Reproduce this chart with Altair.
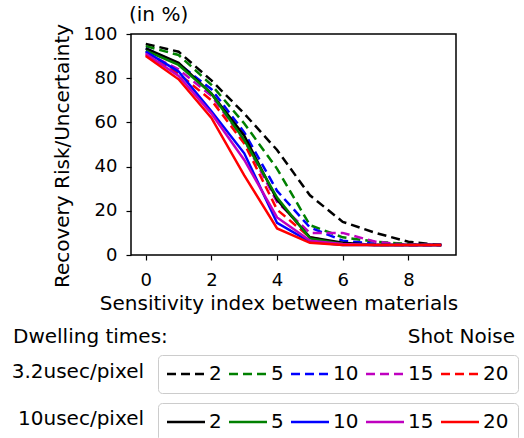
import altair as alt
import pandas as pd

FONT = "DejaVu Sans"

x_vals = [0, 1, 2, 3, 4, 5, 6, 7, 8, 9]
noise_levels = ["2", "5", "10", "15", "20"]
line_colors = ["#000000", "#008000", "#0000ff", "#bf00bf", "#ff0000"]

# 3.2 usec/pixel (dashed)
dash_2 = [95.5, 92.0, 79.0, 64.0, 47.5, 27.0, 15.0, 10.0, 6.0, 4.5]
dash_5 = [94.5, 90.5, 77.0, 59.5, 39.0, 13.5, 8.0, 6.0, 5.0, 4.5]
dash_10 = [93.5, 86.5, 75.0, 55.5, 29.0, 12.5, 6.5, 5.0, 4.5, 4.5]
dash_15 = [91.5, 84.0, 72.0, 52.0, 24.0, 10.0, 10.0, 6.0, 4.5, 4.5]
dash_20 = [90.5, 82.0, 70.0, 50.5, 20.5, 8.0, 5.0, 4.5, 4.5, 4.5]

# 10 usec/pixel (solid)
solid_2 = [93.5, 87.0, 73.0, 54.0, 25.0, 8.0, 5.5, 4.5, 4.5, 4.5]
solid_5 = [92.5, 86.0, 73.0, 52.0, 26.0, 7.5, 5.0, 4.5, 4.5, 4.5]
solid_10 = [92.0, 83.0, 65.0, 46.0, 14.5, 6.0, 4.5, 4.5, 4.5, 4.5]
solid_15 = [91.0, 81.0, 64.0, 43.0, 17.0, 6.5, 5.0, 4.5, 4.5, 4.5]
solid_20 = [90.0, 79.5, 62.0, 36.0, 12.0, 5.5, 4.5, 4.5, 4.5, 4.5]

x_ticks = [0, 2, 4, 6, 8]
y_ticks = [0, 20, 40, 60, 80, 100]

unit_text = "(in %)"
x_title = "Sensitivity index between materials"
y_title = "Recovery Risk/Uncertainty"
legend_head_left = "Dwelling times:"
legend_head_right = "Shot Noise"
row_label_dashed = "3.2usec/pixel"
row_label_solid = "10usec/pixel"


def long_frame(series_list):
    rows = []
    for lvl, ys in zip(noise_levels, series_list):
        for xv, yv in zip(x_vals, ys):
            rows.append({"x": xv, "value": yv, "noise": lvl})
    return pd.DataFrame(rows)


df_dash = long_frame([dash_2, dash_5, dash_10, dash_15, dash_20])
df_solid = long_frame([solid_2, solid_5, solid_10, solid_15, solid_20])

x_enc = alt.X(
    "x:Q",
    scale=alt.Scale(domain=[-0.45, 9.45], nice=False, zero=False),
    axis=alt.Axis(
        values=x_ticks, title=x_title, format="d", labelPadding=11,
        titleX=147.5, titleY=48, titleAlign="center", titleBaseline="middle",
    ),
)
y_enc = alt.Y(
    "value:Q",
    scale=alt.Scale(domain=[0, 100], nice=False),
    axis=alt.Axis(
        values=y_ticks, title=y_title, labelPadding=9,
        titleX=-69, titleY=121.5, titleAlign="center", titleBaseline="middle", titleAngle=270,
    ),
)

DASH = [9, 5]
SYMBOL_PATH = "M-2.5,0H7"


def legend_for(y, dash):
    kw = dict(
        orient="none",
        legendX=27,
        legendY=y,
        direction="horizontal",
        title=None,
        symbolType=SYMBOL_PATH,
        symbolSize=64,
        symbolStrokeWidth=2.5,
        labelFontSize=20,
        labelFont=FONT,
        labelColor="black",
        labelOffset=22,
        columnPadding=2,
        padding=9,
        strokeColor="#cccccc",
        cornerRadius=4,
        fillColor="white",
    )
    if dash:
        kw["symbolDash"] = DASH
    return alt.Legend(**kw)


dashed = (
    alt.Chart(df_dash)
    .mark_line(strokeWidth=2.5, strokeDash=DASH)
    .encode(
        x=x_enc,
        y=y_enc,
        color=alt.Color(
            "noise:N",
            scale=alt.Scale(domain=noise_levels, range=line_colors),
            sort=noise_levels,
            legend=legend_for(321, True),
        ),
    )
)

solid = (
    alt.Chart(df_solid)
    .mark_line(strokeWidth=2.5)
    .encode(
        x=x_enc,
        y=y_enc,
        color=alt.Color(
            "noise:N",
            scale=alt.Scale(domain=noise_levels, range=line_colors),
            sort=noise_levels,
            legend=legend_for(369, False),
        ),
    )
)

one = pd.DataFrame({"k": [0]})


def label(text, x, y, align="left"):
    return (
        alt.Chart(one)
        .mark_text(text=text, align=align, baseline="middle", font=FONT, fontSize=20, color="black")
        .encode(x=alt.value(x), y=alt.value(y))
    )


texts = [
    label(unit_text, -2, -19),
    label(legend_head_left, -118, 303),
    label(legend_head_right, 384, 303, "right"),
    label(row_label_dashed, 13, 338, "right"),
    label(row_label_solid, 13, 385, "right"),
]

chart = (
    alt.layer(dashed, solid, *texts)
    .resolve_scale(color="independent")
    .properties(
        width=325,
        height=221,
        autosize=alt.AutoSizeParams(type="none"),
        padding={"left": 131, "top": 34, "right": 68, "bottom": 183},
        background="white",
    )
    .configure_view(stroke="black", strokeWidth=1.5)
    .configure_axis(
        grid=False,
        domain=False,
        ticks=True,
        tickColor="black",
        tickWidth=1.2,
        tickSize=5,
        labelFont=FONT,
        labelFontSize=18,
        labelColor="black",
        titleFont=FONT,
        titleFontSize=20,
        titleFontWeight="normal",
        titleColor="black",
    )
)

chart.save("out.html", embed_options={"renderer": "svg", "actions": False})
